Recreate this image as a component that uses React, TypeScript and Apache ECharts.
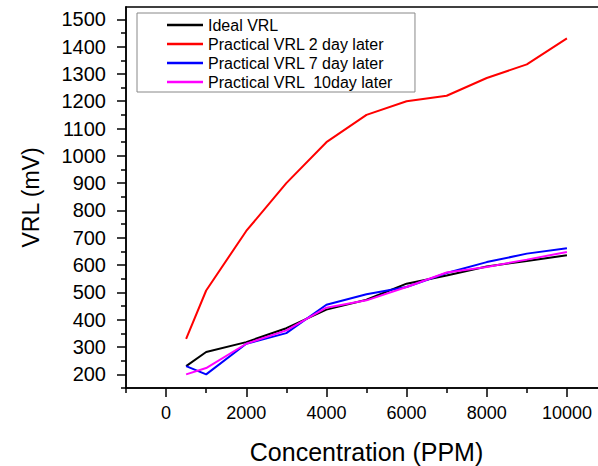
import React, { useEffect, useRef } from "react";
import * as echarts from "echarts";

const concentration = [500, 1000, 2000, 3000, 4000, 5000, 6000, 7000, 8000, 9000, 10000];
const idealVRL = [230, 282, 318, 369, 437, 473, 532, 562, 595, 615, 636];
const practical2Day = [330, 507, 725, 900, 1050, 1150, 1200, 1220, 1285, 1335, 1430];
const practical7Day = [230, 200, 312, 351, 455, 493, 520, 571, 611, 642, 662];
const practical10Day = [200, 223, 312, 361, 444, 471, 520, 573, 593, 620, 648];

const seriesNames = [
  "Ideal VRL",
  "Practical VRL 2 day later",
  "Practical VRL 7 day later",
  "Practical VRL  10day later",
];
const seriesColors = ["#000000", "#ff0000", "#0000ff", "#ff00ff"];
const seriesValues = [idealVRL, practical2Day, practical7Day, practical10Day];

const xMajorTicks = [0, 2000, 4000, 6000, 8000, 10000];
const xMinorTicks = [-1000, 1000, 3000, 5000, 7000, 9000];
const yMajorTicks = [200, 300, 400, 500, 600, 700, 800, 900, 1000, 1100, 1200, 1300, 1400, 1500];
const yMinorTicks = [150, 250, 350, 450, 550, 650, 750, 850, 950, 1050, 1150, 1250, 1350, 1450];

const FONT = 'Arial, "Liberation Sans", sans-serif';

export default function App() {
  const ref = useRef<HTMLDivElement>(null);
  useEffect(() => {
    if (!ref.current) return;
    const chart = echarts.init(ref.current, null, { renderer: "svg" });
    const axisLine = { show: true, onZero: false, lineStyle: { color: "#000", width: 1.5 } };
    const xBase = { type: "value", min: -1000, max: 11000, splitLine: { show: false } };
    const yBase = { type: "value", min: 150, max: 1545, splitLine: { show: false } };
    const plain = (v: number) => String(v);
    chart.setOption({
      animation: false,
      backgroundColor: "#ffffff",
      grid: { left: 126, top: 7, right: -9, bottom: 78, containLabel: false, outerBoundsMode: "none" },
      legend: {
        orient: "vertical",
        left: 137,
        top: 13,
        padding: [4, 22, 2, 30],
        itemGap: 3,
        itemWidth: 36,
        itemHeight: 2.5,
        icon: "rect",
        borderColor: "#888",
        borderWidth: 1,
        textStyle: { fontSize: 16, color: "#000", fontFamily: FONT, lineHeight: 16 },
        data: seriesNames,
      },
      xAxis: [
        {
          ...xBase,
          position: "bottom",
          axisLine,
          axisTick: { show: true, customValues: xMajorTicks, length: 9, lineStyle: { color: "#000", width: 1.5 } },
          axisLabel: { customValues: xMajorTicks, formatter: plain, fontSize: 18, color: "#000", fontFamily: FONT, margin: 16 },
          name: "Concentration (PPM)",
          nameLocation: "middle",
          nameGap: 51,
          nameTextStyle: { fontSize: 25, color: "#000", fontFamily: FONT },
        },
        {
          ...xBase,
          position: "bottom",
          axisLine,
          axisTick: { show: true, customValues: xMinorTicks, length: 5, lineStyle: { color: "#000", width: 1.5 } },
          axisLabel: { show: false },
        },
        {
          ...xBase,
          position: "top",
          axisLine,
          axisTick: { show: false },
          axisLabel: { show: false },
        },
      ],
      yAxis: [
        {
          ...yBase,
          position: "left",
          axisLine,
          axisTick: { show: true, customValues: yMajorTicks, length: 9, lineStyle: { color: "#000", width: 1.5 } },
          axisLabel: { customValues: yMajorTicks, formatter: plain, fontSize: 20, color: "#000", fontFamily: FONT, margin: 20 },
          name: "VRL (mV)",
          nameLocation: "middle",
          nameGap: 84,
          nameTextStyle: { fontSize: 23, color: "#000", fontFamily: FONT },
        },
        {
          ...yBase,
          position: "left",
          axisLine,
          axisTick: { show: true, customValues: yMinorTicks, length: 5, lineStyle: { color: "#000", width: 1.5 } },
          axisLabel: { show: false },
        },
      ],
      series: seriesNames.map((name, i) => ({
        name,
        type: "line",
        xAxisIndex: 0,
        yAxisIndex: 0,
        symbol: "none",
        color: seriesColors[i],
        lineStyle: { color: seriesColors[i], width: 2 },
        data: concentration.map((c, j) => [c, seriesValues[i][j]]),
      })),
    });
    return () => chart.dispose();
  }, []);
  return (
    <div
      ref={ref}
      style={{ position: "fixed", left: 0, top: 0, width: 598, height: 466, background: "#fff" }}
    />
  );
}
